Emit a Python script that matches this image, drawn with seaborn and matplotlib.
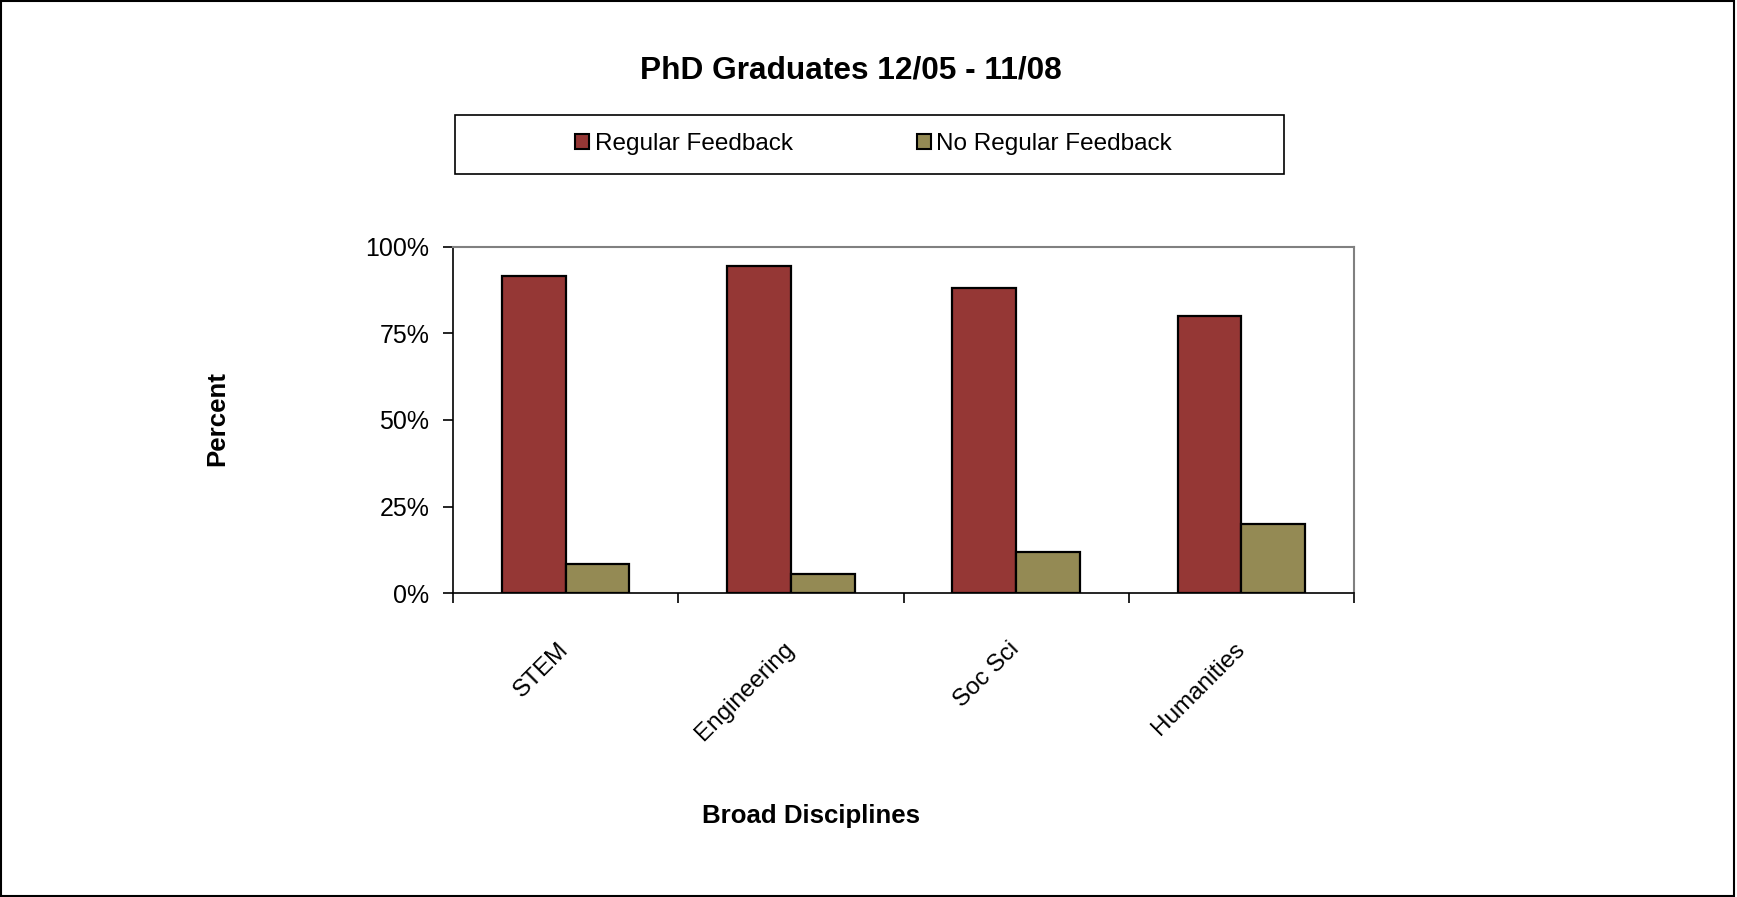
import matplotlib
matplotlib.use("Agg")
import matplotlib.pyplot as plt
import seaborn as sns
import pandas as pd
from matplotlib.patches import Rectangle
from matplotlib.ticker import FixedLocator, PercentFormatter

categories = ["STEM", "Engineering", "Soc Sci", "Humanities"]
regular = [91.5, 94.5, 88.0, 80.0]
no_regular = [8.5, 5.5, 12.0, 20.0]
series_names = ["Regular Feedback", "No Regular Feedback"]
colors = ["#953735", "#948A54"]

df = pd.DataFrame({
    "Discipline": categories * 2,
    "Series": [series_names[0]] * len(categories) + [series_names[1]] * len(categories),
    "Value": regular + no_regular,
})

sns.set_style("white")
plt.rcParams["font.family"] = ["Liberation Sans", "DejaVu Sans"]
plt.rcParams["text.color"] = "black"
plt.rcParams["axes.labelcolor"] = "black"
plt.rcParams["xtick.color"] = "black"
plt.rcParams["ytick.color"] = "black"

fig = plt.figure(figsize=(17.37, 8.97), dpi=100)
L, R, B, T = 0.2608, 0.7795, 0.3386, 0.725
ax = fig.add_axes([L, B, R - L, T - B])

sns.barplot(data=df, x="Discipline", y="Value", hue="Series", palette=colors,
            saturation=1, width=0.567, edgecolor="black", linewidth=1.6, ax=ax, legend=True)

ax.set_ylim(0, 100)
ax.set_xlim(-0.5, len(categories) - 0.5)
ax.yaxis.set_major_locator(FixedLocator([0, 25, 50, 75, 100]))
ax.yaxis.set_major_formatter(PercentFormatter(decimals=0))
ax.tick_params(axis="y", labelsize=18, length=7, width=1.2, direction="out", left=True,
               pad=10, colors="black")

# category labels, with tick marks between categories
ax.set_xticks(range(len(categories)))
ax.set_xticklabels(categories, rotation=45, ha="right", va="center",
                   rotation_mode="anchor", fontsize=17.5, color="black")
ax.tick_params(axis="x", length=0, pad=38)
ax.set_xticks([i - 0.5 for i in range(len(categories) + 1)], minor=True)
ax.tick_params(axis="x", which="minor", length=7, width=1.2, direction="out", bottom=True,
               color="black")

for s in ["top", "right"]:
    ax.spines[s].set_color("#808080")
    ax.spines[s].set_linewidth(1.5)
for s in ["left", "bottom"]:
    ax.spines[s].set_color("black")
    ax.spines[s].set_linewidth(1.2)

ax.set_ylabel("Percent", fontsize=18.6, fontweight="bold", color="black")
ax.yaxis.set_label_coords(-0.2486, 0.505)
ax.set_xlabel("Broad Disciplines", fontsize=18.6, fontweight="bold", va="center", color="black")
ax.xaxis.set_label_coords(0.397, -0.6425)

leg = ax.legend(loc="center", bbox_to_anchor=(0.5029, 0.839),
                bbox_transform=fig.transFigure, ncol=2, frameon=False,
                fontsize=17.5, handlelength=0.58, handleheight=0.58,
                handletextpad=0.22, columnspacing=5.1, labelcolor="black")
for h in leg.legend_handles:
    h.set_edgecolor("black")
    h.set_linewidth(1.5)

fig.patches.append(Rectangle((0.262, 0.806), 0.477, 0.066, transform=fig.transFigure,
                             fill=False, edgecolor="black", linewidth=1.2))

fig.text(0.490, 0.921, "PhD Graduates 12/05 - 11/08", ha="center", va="center",
         fontsize=22.8, fontweight="bold", color="black")

fig.patches.append(Rectangle((0.0005, 0.001), 0.998, 0.998, transform=fig.transFigure,
                             fill=False, edgecolor="black", linewidth=1.5))

fig.savefig("out.png", dpi=100)
